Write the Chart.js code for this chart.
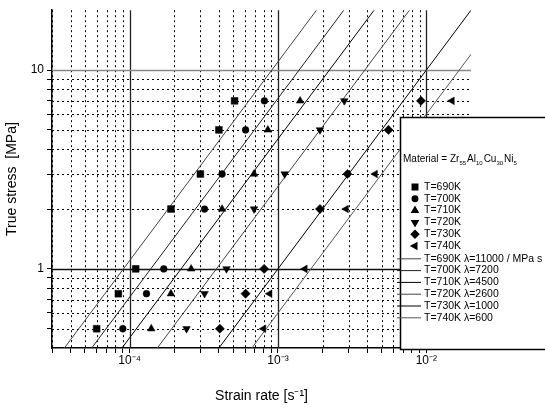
<!DOCTYPE html>
<html>
<head>
<meta charset="utf-8">
<script src="https://cdn.jsdelivr.net/npm/chart.js@4.4.0/dist/chart.umd.min.js"></script>
<style>
  html, body { margin: 0; padding: 0; background: #fff; }
  canvas { display: block; }
</style>
</head>
<body>
<canvas id="chart" width="545" height="413"></canvas>
<script>
// temperatures and fitted viscosity-like constants (from the legend)
const temps = ['690K', '700K', '710K', '720K', '730K', '740K'];
const lambdas = [11000, 7200, 4500, 2600, 1000, 600];

// measured points, stress [MPa] vs strain rate [1/s]
const stress690 = [0.5, 0.75, 1, 2, 3, 5, 7];
const rate690 = [6.0e-5, 8.4e-5, 1.1e-4, 1.9e-4, 3.0e-4, 4.0e-4, 5.1e-4];
const stress700 = [0.5, 0.75, 1, 2, 3, 5, 7];
const rate700 = [9.0e-5, 1.3e-4, 1.7e-4, 3.2e-4, 4.2e-4, 6.05e-4, 8.1e-4];
const stress710 = [0.5, 0.75, 1, 2, 3, 5, 7];
const rate710 = [1.4e-4, 1.9e-4, 2.6e-4, 4.2e-4, 6.9e-4, 8.55e-4, 1.41e-3];
const stress720 = [0.5, 0.75, 1, 2, 3, 5, 7];
const rate720 = [2.42e-4, 3.2e-4, 4.5e-4, 6.9e-4, 1.11e-3, 1.92e-3, 2.8e-3];
const stress730 = [0.5, 0.75, 1, 2, 3, 5, 7];
const rate730 = [4.06e-4, 6.05e-4, 8.07e-4, 1.92e-3, 2.94e-3, 5.56e-3, 9.2e-3];
const stress740 = [0.5, 0.75, 1, 2, 3, 7];
const rate740 = [8.0e-4, 8.8e-4, 1.52e-3, 2.88e-3, 4.52e-3, 1.49e-2];

// axis ticks
const xMajor = [1e-4, 1e-3, 1e-2];
const xTickLabels = ['10\u207B\u2074', '10\u207B\u00B3', '10\u207B\u00B2'];
const yMajor = [1, 10];
const yTickLabels = ['1', '10'];
const mantissas = [2, 3, 4, 5, 6, 7, 8, 9];

const X_MIN = 3e-5, X_MAX = 0.02, Y_MIN = 0.4, Y_MAX = 20;

function minorsBetween(lo, hi) {
  const out = [];
  for (let e = -6; e <= 2; e++) {
    mantissas.forEach(m => {
      const v = m * Math.pow(10, e);
      if (v >= lo * 0.999 && v <= hi * 1.001) out.push(v);
    });
  }
  return out;
}
const xMinor = minorsBetween(X_MIN, X_MAX).filter(v => v < X_MAX * 0.999);
const yMinor = minorsBetween(Y_MIN, Y_MAX).filter(v => v > Y_MIN * 1.001 && v < Y_MAX * 0.999);

const markerStyles = [
  { pointStyle: 'rect', rotation: 0, radius: 4.8 },
  { pointStyle: 'circle', rotation: 0, radius: 3.4 },
  { pointStyle: 'triangle', rotation: 0, radius: 4.4 },
  { pointStyle: 'triangle', rotation: 180, radius: 4.4 },
  { pointStyle: 'rectRot', rotation: 0, radius: 4.6 },
  { pointStyle: 'triangle', rotation: -90, radius: 4.4 }
];
const lineColors = ['#444', '#222', '#000', '#444', '#000', '#555'];

const rates = [rate690, rate700, rate710, rate720, rate730, rate740];
const stresses = [stress690, stress700, stress710, stress720, stress730, stress740];

const pointSets = temps.map((t, i) => ({
  label: 'T=' + t,
  data: rates[i].map((r, j) => ({ x: r, y: stresses[i][j] })),
  showLine: false,
  pointStyle: markerStyles[i].pointStyle,
  rotation: markerStyles[i].rotation,
  pointRadius: markerStyles[i].radius,
  pointBackgroundColor: '#000',
  pointBorderColor: '#000',
  pointBorderWidth: 0.5,
  clip: false,
  order: 0
}));

// fit lines: stress = lambda * rate, drawn across the stress range
const lineSets = temps.map((t, i) => ({
  label: 'T=' + t + ' \u03BB=' + lambdas[i] + (i === 0 ? ' / MPa s' : ''),
  data: [Y_MIN, Y_MAX].map(s => ({ x: s / lambdas[i], y: s })),
  showLine: true,
  borderColor: lineColors[i],
  borderWidth: 1,
  pointRadius: 0,
  clip: 0,
  order: 1
}));

const gridPlugin = {
  id: 'logGrid',
  beforeDatasetsDraw(chart) {
    const { ctx, chartArea: a, scales: { x, y } } = chart;
    ctx.save();
    ctx.lineWidth = 1;
    ctx.strokeStyle = '#000';
    ctx.setLineDash([2, 3]);
    xMinor.forEach(v => {
      const px = Math.round(x.getPixelForValue(v)) + 0.5;
      ctx.beginPath(); ctx.moveTo(px, a.top); ctx.lineTo(px, a.bottom); ctx.stroke();
    });
    yMinor.forEach(v => {
      const py = Math.round(y.getPixelForValue(v)) + 0.5;
      ctx.beginPath(); ctx.moveTo(a.left, py); ctx.lineTo(a.right, py); ctx.stroke();
    });
    ctx.setLineDash([]);
    ctx.lineWidth = 1.3;
    xMajor.forEach(v => {
      const px = Math.round(x.getPixelForValue(v)) + 0.5;
      ctx.strokeStyle = '#222';
      ctx.beginPath(); ctx.moveTo(px, a.top); ctx.lineTo(px, a.bottom); ctx.stroke();
    });
    yMajor.forEach(v => {
      const py = Math.round(y.getPixelForValue(v)) + 0.5;
      ctx.strokeStyle = v === 10 ? '#888' : '#111';
      ctx.beginPath(); ctx.moveTo(a.left, py); ctx.lineTo(a.right, py); ctx.stroke();
    });
    ctx.restore();
  }
};

const LEGEND_FONT = '"Liberation Sans Narrow", "Liberation Sans", Arial, sans-serif';

const legendPlugin = {
  id: 'insetLegend',
  afterDraw(chart) {
    const ctx = chart.ctx;
    ctx.save();
    ctx.fillStyle = '#fff';
    ctx.fillRect(400, 117, 145, 233);
    ctx.strokeStyle = '#000';
    ctx.lineWidth = 1.5;
    ctx.strokeRect(400.5, 117.5, 150, 232);

    ctx.fillStyle = '#000';
    ctx.textBaseline = 'middle';
    ctx.textAlign = 'left';
    const parts = [['Material = Zr', 0], ['55', 1], ['Al', 0], ['10', 1], ['Cu', 0], ['30', 1], ['Ni', 0], ['5', 1]];
    let tx = 403;
    const ty = 159;
    parts.forEach(([t, sub]) => {
      ctx.font = (sub ? '6px ' : '10px ') + LEGEND_FONT;
      ctx.fillText(t, tx, sub ? ty + 4 : ty);
      tx += ctx.measureText(t).width + (sub ? 1 : 0);
    });

    ctx.font = '10.5px ' + LEGEND_FONT;
    const rowH = 11.8;
    chart.data.datasets.forEach((ds, i) => {
      const yy = 187 + i * rowH;
      if (!ds.showLine) {
        Chart.helpers.drawPoint(ctx, {
          pointStyle: ds.pointStyle,
          rotation: ds.rotation,
          radius: ds.pointRadius * 0.8,
          borderWidth: 0.5
        }, 415, yy);
        ctx.fillStyle = '#000';
        ctx.fill();
      } else {
        ctx.strokeStyle = ds.borderColor;
        ctx.lineWidth = 1;
        ctx.beginPath(); ctx.moveTo(397, yy + 1); ctx.lineTo(421, yy + 1); ctx.stroke();
      }
      ctx.fillStyle = '#000';
      ctx.fillText(ds.label, 424, yy + (ds.showLine ? 1 : 0));
    });
    ctx.restore();
  }
};

new Chart(document.getElementById('chart'), {
  type: 'scatter',
  data: { datasets: [...pointSets, ...lineSets] },
  options: {
    responsive: false,
    animation: false,
    layout: { padding: { left: 0, top: 7, right: 74, bottom: 0 } },
    plugins: { legend: { display: false }, tooltip: { enabled: false } },
    scales: {
      x: {
        type: 'logarithmic',
        min: X_MIN,
        max: X_MAX,
        afterBuildTicks(scale) {
          scale.ticks = [...xMinor, ...xMajor].sort((a, b) => a - b).map(v => ({ value: v }));
        },
        afterFit(scale) { scale.height = 65; },
        ticks: {
          autoSkip: false,
          maxRotation: 0,
          color: '#000',
          padding: 0,
          font: { family: 'Liberation Sans, Arial, sans-serif', size: 12 },
          callback(v) {
            const k = xMajor.findIndex(m => Math.abs(m - v) / m < 1e-6);
            return k >= 0 ? xTickLabels[k] : '';
          }
        },
        grid: { drawOnChartArea: false, drawTicks: true, tickLength: 5, tickColor: '#000' },
        border: { color: '#000', width: 1.5 },
        title: {
          display: true,
          text: 'Strain rate [s\u207B\u00B9]',
          color: '#000',
          font: { family: 'Liberation Sans, Arial, sans-serif', size: 14 },
          padding: { top: 12, bottom: 8 }
        }
      },
      y: {
        type: 'logarithmic',
        min: Y_MIN,
        max: Y_MAX,
        afterBuildTicks(scale) {
          scale.ticks = [...yMinor, ...yMajor].sort((a, b) => a - b).map(v => ({ value: v }));
        },
        afterFit(scale) { scale.width = 52; },
        ticks: {
          autoSkip: false,
          color: '#000',
          padding: 3,
          font: { family: 'Liberation Sans, Arial, sans-serif', size: 12 },
          callback(v) {
            const k = yMajor.findIndex(m => Math.abs(m - v) / m < 1e-6);
            return k >= 0 ? yTickLabels[k] : '';
          }
        },
        grid: { drawOnChartArea: false, drawTicks: true, tickLength: 5, tickColor: '#000' },
        border: { color: '#000', width: 1.5 },
        title: {
          display: true,
          text: 'True stress  [MPa]',
          color: '#000',
          font: { family: 'Liberation Sans, Arial, sans-serif', size: 14 },
          padding: { top: 4, bottom: 4 }
        }
      }
    }
  },
  plugins: [gridPlugin, legendPlugin]
});
</script>
</body>
</html>
